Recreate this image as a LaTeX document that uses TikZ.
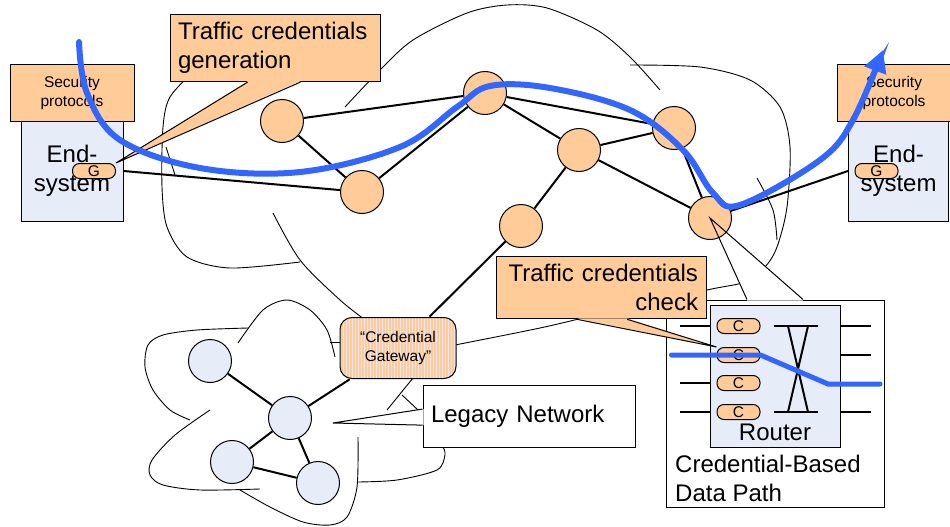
\documentclass[tikz,border=0pt]{standalone}
\usepackage{fontspec}
\setmainfont{Liberation Sans}
\usetikzlibrary{arrows.meta,calc,patterns.meta}

\definecolor{peach}{RGB}{255,204,153}
\definecolor{paleblue}{RGB}{230,236,248}
\definecolor{flowblue}{RGB}{51,102,255}
\definecolor{stripebg}{RGB}{236,230,242}

\newcommand\largetxt{\fontsize{24}{29}\selectfont}
\newcommand\smalltxt{\fontsize{15.5}{19}\selectfont}
\newcommand\tagtxt{\fontsize{15.5}{15.5}\selectfont}

\tikzset{
  puff/.style={line width=0.9pt},
  link/.style={line width=2pt},
  rtr/.style={circle, draw, line width=1pt, fill=peach, minimum size=43pt, inner sep=0pt},
  old/.style={rtr, fill=paleblue},
  tag/.style={rectangle, rounded corners=7pt, draw, line width=1pt, fill=peach,
    minimum width=43pt, minimum height=15pt, inner sep=0pt, font=\tagtxt},
  secbox/.style={draw, line width=1pt, fill=peach, minimum height=56pt,
    inner sep=0pt, font=\smalltxt, align=center},
  hostbox/.style={draw, line width=1pt, fill=paleblue, minimum height=100pt,
    inner sep=0pt, font=\largetxt, align=center},
  callbox/.style={draw, line width=1pt, fill=peach, text width=194pt,
    minimum height=61pt, inner sep=8pt, font=\largetxt},
  gwbox/.style={draw, line width=1pt, rounded corners=12pt, minimum width=116pt,
    minimum height=61pt, font=\smalltxt, align=center, preaction={fill=stripebg},
    pattern={Lines[angle=90,distance=3pt,line width=1.6pt]}, pattern color=peach},
  flow/.style={line width=6pt, draw=flowblue, line cap=round},
}

\begin{document}
\begin{tikzpicture}[x=1pt,y=-1pt]
\useasboundingbox (0,0) rectangle (950,527);

% backbone cloud
\draw[puff] plot[smooth] coordinates {(195,70) (170,97) (163,127) (162,187) (167,227) (187,257) (230,268) (300,262)};
\draw[puff] plot[smooth] coordinates {(166,147) (175,175)};
\draw[puff] plot[smooth] coordinates {(273,213) (300,260) (340,300) (368,322)};
\draw[puff] plot[smooth] coordinates {(345,107) (380,70) (413,40) (467,13) (507,5) (547,8) (597,30) (630,57) (660,90)};
\draw[puff] plot[smooth] coordinates {(630,65) (700,67) (750,80) (780,107) (790,147) (787,207) (777,247) (765,267) (745,282) (707,290) (600,314) (540,328) (450,346)};
\draw[puff] plot[smooth] coordinates {(757,178) (773,210) (777,240)};

% legacy cloud
\draw[puff] plot[smooth] coordinates {(248,328) (197,330) (163,335) (148,345) (145,367) (153,390) (170,410) (190,420)};
\draw[puff] plot[smooth] coordinates {(210,410) (175,435) (152,460) (150,475) (163,485) (200,490) (260,489)};
\draw[puff] plot[smooth] coordinates {(238,343) (263,310) (287,300) (310,310) (327,330) (335,357)};
\draw[puff] (330,342) -- (341,342);
\draw[puff] plot[smooth] coordinates {(240,490) (270,507) (303,522) (330,525) (347,517) (357,487) (358,437)};
\draw[puff] plot[smooth] coordinates {(358,482) (397,480) (437,470) (445,455) (443,447)};
\draw[puff] (413,378) -- (387,410);
\draw[puff] (402,395) -- (418,410);

% data path inset
\coordinate (hub) at (710,218);
\node[draw, line width=1pt, fill=white, minimum width=218pt, minimum height=207pt, inner sep=0pt] (dp) at (775,403.5) {};
\coordinate (dpa) at ($(dp.north west)!0.372!(dp.north east)$);
\coordinate (dpb) at ($(dp.north west)!0.628!(dp.north east)$);
\fill[white] ($(dpa)+(0,1)$) -- (hub) -- ($(dpb)+(0,1)$) -- cycle;
\node[draw, line width=1pt, fill=paleblue, minimum width=130pt, minimum height=142pt, inner sep=0pt] (rt) at (775,376) {};
\node[tag] (c1) at (738.5,326) {C};
\node[tag] (c2) at (738.5,355) {C};
\node[tag] (c3) at (738.5,383) {C};
\node[tag] (c4) at (738.5,412) {C};
\draw[link] (c1 -| rt.west) -- ++(-30,0);
\draw[link] (c2 -| rt.west) -- ++(-30,0);
\draw[link] (c3 -| rt.west) -- ++(-30,0);
\draw[link] (c4 -| rt.west) -- ++(-30,0);
\draw[link] (c1 -| rt.east) -- ++(30,0);
\draw[link] (c2 -| rt.east) -- ++(30,0);
\draw[link] (c3 -| rt.east) -- ++(30,0);
\draw[link] (c4 -| rt.east) -- ++(30,0);
% crossbar
\draw[link] (774,326) -- (818,326);
\draw[link] (774,412) -- (818,412);
\draw[link] (788,326) -- (808,412);
\draw[link] (808,326) -- (788,412);
\node[font=\largetxt, inner sep=0pt] (rtname) at (775,432) {Router};
\node[font=\largetxt, align=left, anchor=west, inner sep=0pt] (dptxt) at (675,478.5) {Credential-Based\\Data Path};

% end systems
\node[hostbox, minimum width=102pt] (es1) at (72,171) {End-\\system};
\node[secbox, minimum width=124pt] (sp1) at (72,93) {Security\\protocols};
\node[tag] (g1) at (94,171) {G};
\node[hostbox, minimum width=100pt] (es2) at (898.5,171) {End-\\system};
\node[secbox, minimum width=114pt] (sp2) at (894,93) {Security\\protocols};
\node[tag] (g2) at (876.5,171) {G};

% routers
\node[rtr] (r1) at (282,121) {};
\node[rtr] (r2) at (362,192) {};
\node[rtr] (r3) at (485,93) {};
\node[rtr] (r4) at (579,150) {};
\node[rtr] (r5) at (521,226) {};
\node[rtr] (r6) at (674,128) {};
\node[rtr] (r7) at (hub) {};
\node[gwbox] (gw) at (398,348) {“Credential\\Gateway”};
\node[old] (l1) at (210,361) {};
\node[old] (l2) at (290,418) {};
\node[old] (l3) at (232,462) {};
\node[old] (l4) at (318,483) {};

\draw[link] (es1.east) -- (r2);
\draw[link] (r1) -- (r3);
\draw[link] (r1) -- (r2);
\draw[link] (r2) -- (r3);
\draw[link] (r3) -- (r6);
\draw[link] (r3) -- (r4);
\draw[link] (r4) -- (r6);
\draw[link] (r4) -- (r7);
\draw[link] (r6) -- (r7);
\draw[link] (r4) -- (r5);
\draw[link] (r5) -- (gw);
\draw[link] (r7) -- (es2.west);
\draw[link] (l1) -- (l2);
\draw[link] (l2) -- (gw);
\draw[link] (l2) -- (l3);
\draw[link] (l2) -- (l4);
\draw[link] (l3) -- (l4);

% callouts
\node[callbox, align=left, minimum height=60pt] (gen) at (275,48) {Traffic credentials\\generation};
\coordinate (gena) at ($(gen.south west)!0.37!(gen.south east)$);
\coordinate (genb) at ($(gen.south west)!0.62!(gen.south east)$);
\fill[peach] ($(gena)+(0,-1)$) -- (g1.north east) -- ($(genb)+(0,-1)$) -- cycle;
\draw[line width=1pt] (gena) -- (g1.north east) -- (genb);

\node[callbox, align=right] (chk) at (601,287.5) {Traffic credentials\\check};
\coordinate (chka) at ($(chk.south west)!0.386!(chk.south east)$);
\coordinate (chkb) at ($(chk.south west)!0.624!(chk.south east)$);
\fill[peach] ($(chka)+(0,-1)$) -- (c2.north west) -- ($(chkb)+(0,-1)$) -- cycle;
\draw[line width=1pt] (chka) -- (c2.north west) -- (chkb);

\coordinate (legtip) at (333,423);
\node[callbox, fill=white, align=left, minimum height=62pt, text width=196pt] (leg) at (529,416) {Legacy Network};
\coordinate (lega) at ($(leg.north west)!0.39!(leg.south west)$);
\coordinate (legb) at ($(leg.north west)!0.645!(leg.south west)$);
\fill[white] ($(lega)+(1,0)$) -- (legtip) -- ($(legb)+(1,0)$) -- cycle;
\draw[line width=1pt] (lega) -- (legtip) -- (legb);

\draw[line width=1pt] (dpa) -- (r7.center) -- (dpb);

% traffic flow
\draw[flow, -{Triangle[length=22pt,width=22pt]}] plot[smooth, tension=0.6] coordinates {(79,42) (87,93) (120,140) (200,168) (300,172) (400,147) (457,107) (490,86) (550,88) (630,110) (683,150) (713,193) (740,205) (820,160) (853,120) (883,50)};
\draw[flow, line width=5pt] ($(c2.west)+(-45,0)$) -- (c2.east) -- (828,384) -- (880,384);
\end{tikzpicture}
\end{document}
